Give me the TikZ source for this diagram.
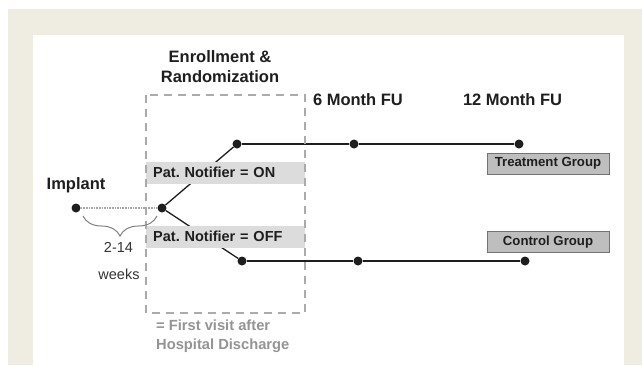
\documentclass[tikz,border=0pt]{standalone}
\usepackage{fontspec}
\setmainfont{Liberation Sans}
\usepackage{tikz}
\usetikzlibrary{positioning,calc}
\usetikzlibrary{decorations.pathreplacing}
\frenchspacing

\definecolor{beige}{HTML}{EFECE2}
\definecolor{boxgray}{HTML}{DCDCDC}
\definecolor{grpgray}{HTML}{BEBEBE}
\definecolor{dashgray}{HTML}{ABABAB}
\definecolor{ink}{HTML}{1E1E1E}

\tikzset{
  dot/.style={circle,fill=ink,inner sep=0pt,minimum size=9pt},
  head/.style={font=\bfseries\fontsize{16.5}{20}\selectfont,text=ink,inner sep=0pt},
  small/.style={font=\fontsize{14.5}{17}\selectfont,text=black!80,inner sep=0pt},
  notifier/.style={fill=boxgray,anchor=west,text width=145pt,inner xsep=7pt,
    inner ysep=0pt,minimum height=22pt,align=left,
    font=\bfseries\fontsize{14.5}{17}\selectfont,text=ink},
  group/.style={draw=black!55,fill=grpgray,line width=1pt,inner sep=0pt,
    minimum width=122pt,minimum height=21pt,
    font=\bfseries\fontsize{13.2}{15}\selectfont,text=ink},
  arm/.style={line width=1.3pt,ink},
}

\begin{document}
\begin{tikzpicture}[x=1pt,y=-1pt]
\useasboundingbox (0,0) rectangle (642,365);
\fill[white] (0,0) rectangle (642,365);
\fill[beige] (8,9) rectangle (642,365);
\fill[white] (33,35) rectangle (624,365);

% time points
\node[dot] (impl) at (76,208) {};
\node[dot] (rand) at (162,208) {};
\node[dot] (on0) at (237,144) {};
\node[dot] (on6) at (354,144) {};
\node[dot] (on12) at (519,144) {};
\node[dot] (off0) at (242,261) {};
\node[dot] (off6) at (358,261) {};
\node[dot] (off12) at (525,261) {};

\draw[densely dotted,line width=1.6pt,black!35] (impl) -- (rand);
\draw[arm] (rand) -- (on0);
\draw[arm] (rand) -- (off0);
\draw[arm] (on0) -- (on6) -- (on12);
\draw[arm] (off0) -- (off6) -- (off12);

% randomization arms
\node[notifier] (on) at (146,172.5) {Pat. Notifier = ON};
\node[notifier] (off) at (146,236.5) {Pat. Notifier = OFF};

\draw[dashgray,line width=1.5pt,dash pattern=on 8pt off 6pt] (146,95) rectangle (305,313);

% labels
\node[head] (implant) at (76,185) {Implant};
\node[head,align=center] (enroll) at (220,67) {Enrollment \&\\Randomization};
\node[head] (fu6) at (358,100) {6 Month FU};
\node[head] (fu12) at (512.5,100) {12 Month FU};

\node[group] (treat) at (548,163.5) {Treatment Group};
\node[group] (ctrl) at (548,242) {Control Group};

\draw[decorate,decoration={brace,mirror,amplitude=20pt},black!50,line width=1pt]
  (83,216) -- (157,216);
\node[small] (span) at (118.5,247) {2-14};
\node[small] (weeks) at (119,274) {weeks};

\node[anchor=west,align=left,inner sep=0pt,text=black!42,
  font=\bfseries\fontsize{14.7}{19}\selectfont] (visit) at (156,336.5)
  {= First visit after\\Hospital Discharge};
\end{tikzpicture}
\end{document}
